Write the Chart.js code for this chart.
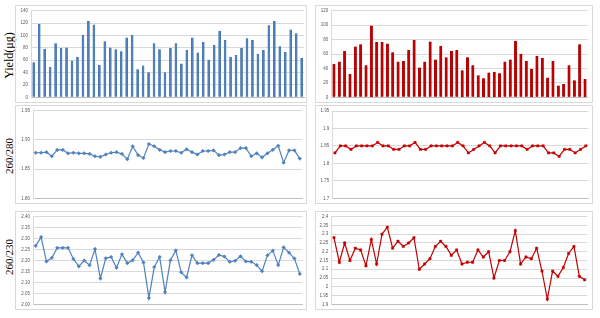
<!DOCTYPE html>
<html>
<head>
<meta charset="utf-8">
<script src="https://cdn.jsdelivr.net/npm/chart.js@4.4.1/dist/chart.umd.min.js"></script>
<style>
  html, body { margin: 0; padding: 0; background: #ffffff; }
  body { width: 600px; height: 318px; position: relative; overflow: hidden; }
  .frame { position: absolute; border: 1px solid #d9d9d9; box-sizing: border-box; }
  canvas { position: absolute; }
  .ytitle { position: absolute; font-family: "Liberation Serif", "DejaVu Serif", serif; color: #000;
            white-space: nowrap; transform-origin: center center; }
</style>
</head>
<body>
<div class="ytitle" id="t1" style="font-size:12px;">Yield(μg)</div>
<div class="ytitle" id="t2" style="font-size:11px;">260/280</div>
<div class="ytitle" id="t3" style="font-size:11px;">260/230</div>
<script>
// ---------- data ----------
const samplesA = ["1","2","3","4","5","6","7","8","9","10","11","12","13","14","15","16","17","18","19","20",
  "21","22","23","24","25","26","27","28","29","30","31","32","33","34","35","36","37","38","39","40",
  "41","42","43","44","45","46","47","48","49","50"];
const samplesB = ["1","2","3","4","5","6","7","8","9","10","11","12","13","14","15","16","17","18","19","20",
  "21","22","23","24","25","26","27","28","29","30","31","32","33","34","35","36","37","38","39","40",
  "41","42","43","44","45","46","47","48"];

const yieldA = [56,118,78,49,87,79,80,59,65,100,123,117,52,90,80,77,74,96,100,45,
  51,40,87,77,40,79,87,54,76,96,72,89,60,84,107,92,65,68,79,95,
  92,70,76,116,123,82,73,109,103,63];
const yieldB = [46,49,64,32,70,73,44,99,76,76,74,62,49,50,65,79,41,49,77,52,
  71,55,64,65,37,55,44,30,26,34,35,33,49,52,78,60,50,39,57,54,
  27,50,16,18,44,23,73,25];

const r280A = [1.878,1.878,1.879,1.872,1.883,1.883,1.877,1.878,1.877,1.877,1.876,1.872,1.871,1.875,1.878,1.879,1.876,1.867,1.889,1.874,
  1.869,1.893,1.889,1.883,1.879,1.881,1.881,1.878,1.884,1.879,1.875,1.881,1.881,1.882,1.874,1.875,1.879,1.879,1.886,1.886,
  1.872,1.877,1.870,1.877,1.883,1.890,1.861,1.882,1.882,1.868];
const r280B = [1.83,1.85,1.85,1.84,1.85,1.85,1.85,1.85,1.86,1.85,1.85,1.84,1.84,1.85,1.85,1.86,1.84,1.84,1.85,1.85,
  1.85,1.85,1.85,1.86,1.85,1.83,1.84,1.85,1.86,1.85,1.83,1.85,1.85,1.85,1.85,1.85,1.84,1.85,1.85,1.85,
  1.83,1.83,1.82,1.84,1.84,1.83,1.84,1.85];

const r230A = [2.267,2.307,2.196,2.212,2.258,2.258,2.258,2.207,2.173,2.200,2.178,2.252,2.118,2.210,2.216,2.167,2.228,2.188,2.201,2.236,
  2.191,2.029,2.170,2.216,2.056,2.201,2.246,2.146,2.123,2.224,2.188,2.188,2.188,2.203,2.225,2.218,2.194,2.199,2.219,2.196,
  2.194,2.179,2.151,2.224,2.245,2.179,2.260,2.236,2.209,2.139];
const r230B = [2.28,2.14,2.25,2.15,2.22,2.21,2.12,2.27,2.13,2.30,2.34,2.22,2.26,2.23,2.25,2.28,2.10,2.13,2.16,2.23,
  2.26,2.23,2.18,2.21,2.13,2.14,2.14,2.21,2.17,2.20,2.05,2.15,2.15,2.20,2.32,2.13,2.17,2.16,2.22,2.09,
  1.93,2.09,2.06,2.11,2.19,2.23,2.06,2.04];

// tick values and labels
const ticksYieldA = [0,20,40,60,80,100,120,140];
const labelsYieldA = ["0","20","40","60","80","100","120","140"];
const ticksYieldB = [0,20,40,60,80,100,120];
const labelsYieldB = ["0","20","40","60","80","100","120"];
const ticks280A = [1.80,1.85,1.90,1.95];
const labels280A = ["1.80","1.85","1.90","1.95"];
const ticks280B = [1.70,1.75,1.80,1.85,1.90,1.95];
const labels280B = ["1.7","1.75","1.8","1.85","1.9","1.95"];
const ticks230A = [2.00,2.05,2.10,2.15,2.20,2.25,2.30,2.35,2.40];
const labels230A = ["2.00","2.05","2.10","2.15","2.20","2.25","2.30","2.35","2.40"];
const ticks230B = [1.90,1.95,2.00,2.05,2.10,2.15,2.20,2.25,2.30,2.35,2.40];
const labels230B = ["1.9","1.95","2","2.05","2.1","2.15","2.2","2.25","2.3","2.35","2.4"];

// ---------- layout ----------
const BLUE = "#4F81BD", BLUE_D = "#3A6AA3";
const RED = "#C00000", RED_D = "#9E0000";

function placeTitle(id, cx, cy) {
  const el = document.getElementById(id);
  const w = el.offsetWidth, h = el.offsetHeight;
  el.style.left = (cx - w / 2) + "px";
  el.style.top = (cy - h / 2) + "px";
  el.style.transform = "rotate(-90deg)";
}
placeTitle("t1", 9, 55);
placeTitle("t2", 9, 155.5);
placeTitle("t3", 9, 256.5);

function makeChart(cfg) {
  const f = cfg.frame, p = cfg.plot;
  const fr = document.createElement("div");
  fr.className = "frame";
  fr.style.left = f[0] + "px"; fr.style.top = f[1] + "px";
  fr.style.width = (f[2] - f[0]) + "px"; fr.style.height = (f[3] - f[1]) + "px";
  document.body.appendChild(fr);
  const cv = document.createElement("canvas");
  const W = f[2] - f[0], H = f[3] - f[1];
  cv.width = W; cv.height = H;
  cv.style.left = f[0] + "px"; cv.style.top = f[1] + "px";
  cv.style.width = W + "px"; cv.style.height = H + "px";
  document.body.appendChild(cv);

  const yW = p[0] - f[0];
  const isBar = cfg.type === "bar";
  const ds = isBar ? {
      data: cfg.values,
      backgroundColor: cfg.color,
      borderColor: cfg.dark,
      borderWidth: 0.4,
      barThickness: cfg.barW
    } : {
      data: cfg.values,
      borderColor: cfg.color,
      borderWidth: 1.2,
      pointStyle: cfg.pointStyle,
      pointRadius: cfg.pointR,
      pointBackgroundColor: cfg.color,
      pointBorderColor: cfg.color,
      pointBorderWidth: 0.5,
      tension: 0,
      fill: false
    };
  return new Chart(cv, {
    type: cfg.type,
    data: { labels: cfg.labels, datasets: [ds] },
    options: {
      responsive: false,
      animation: false,
      devicePixelRatio: 1,
      layout: { padding: { left: 0, top: p[1] - f[1], right: f[2] - p[2], bottom: f[3] - p[3] } },
      plugins: { legend: { display: false }, tooltip: { enabled: false } },
      scales: {
        x: {
          type: "category",
          offset: true,
          ticks: { display: false },
          grid: { display: false, drawTicks: false },
          border: { display: true, color: "#bfbfbf", width: 1 },
          afterFit: s => { s.height = 0; }
        },
        y: {
          min: cfg.ticks[0],
          max: cfg.ticks[cfg.ticks.length - 1],
          afterBuildTicks: s => { s.ticks = cfg.ticks.map(v => ({ value: v })); },
          afterFit: s => { s.width = yW; },
          ticks: {
            padding: 3,
            color: "#595959",
            font: { family: "Liberation Sans", size: 4.5 },
            callback: (v, i) => cfg.tickLabels[i]
          },
          grid: { color: "#d9d9d9", lineWidth: 1, drawTicks: false },
          border: { display: true, color: "#d9d9d9", width: 1 }
        }
      }
    }
  });
}

makeChart({ type: "bar", frame: [15, 5, 307, 103], plot: [31, 9.7, 304.4, 98],
  labels: samplesA, values: yieldA, ticks: ticksYieldA, tickLabels: labelsYieldA,
  color: BLUE, dark: BLUE_D, barW: 2 });
makeChart({ type: "bar", frame: [315, 5, 593, 103], plot: [331.3, 10, 587.7, 98],
  labels: samplesB, values: yieldB, ticks: ticksYieldB, tickLabels: labelsYieldB,
  color: RED, dark: RED_D, barW: 2.4 });
makeChart({ type: "line", frame: [15, 105, 307, 204], plot: [33, 110.3, 304.4, 200],
  labels: samplesA, values: r280A, ticks: ticks280A, tickLabels: labels280A,
  color: BLUE, pointStyle: "rectRot", pointR: 1.8 });
makeChart({ type: "line", frame: [315, 105, 593, 204], plot: [332.3, 111, 588.7, 199.7],
  labels: samplesB, values: r280B, ticks: ticks280B, tickLabels: labels280B,
  color: RED, pointStyle: "rect", pointR: 1.6 });
makeChart({ type: "line", frame: [15, 211, 307, 310], plot: [33, 215.7, 304.4, 305.3],
  labels: samplesA, values: r230A, ticks: ticks230A, tickLabels: labels230A,
  color: BLUE, pointStyle: "rectRot", pointR: 1.8 });
makeChart({ type: "line", frame: [315, 211, 593, 310], plot: [331.3, 215.7, 587.3, 305.3],
  labels: samplesB, values: r230B, ticks: ticks230B, tickLabels: labels230B,
  color: RED, pointStyle: "rect", pointR: 1.6 });
</script>
</body>
</html>
